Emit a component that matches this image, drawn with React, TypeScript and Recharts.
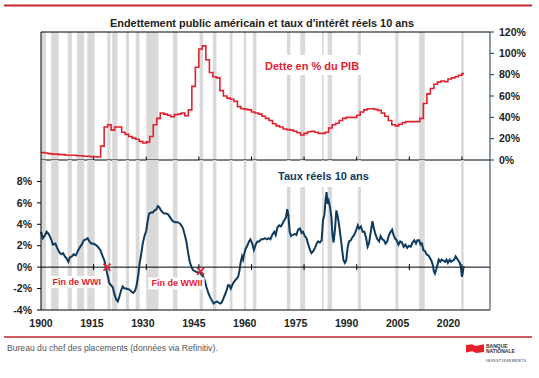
import React from 'react';
import { ComposedChart, Line, XAxis, YAxis, ReferenceArea, ReferenceLine, Scatter } from 'recharts';

// ---------- data ----------
const YEAR_TICKS = [1900, 1915, 1930, 1945, 1960, 1975, 1990, 2005, 2020];
const YEAR_LABELS = ['1900', '1915', '1930', '1945', '1960', '1975', '1990', '2005', '2020'];
const DEBT_TICKS = [0, 20, 40, 60, 80, 100, 120];
const RATE_TICKS = [-4, -2, 0, 2, 4, 6, 8];
const RATE_RIGHT_TICKS = [-4, -2, 0, 2, 4, 6, 8, 10];

const DEBT_YEARS = [
  1900, 1901, 1902, 1903, 1904, 1905, 1906, 1907, 1908, 1909,
  1910, 1911, 1912, 1913, 1914, 1915, 1916, 1917, 1918, 1919,
  1920, 1921, 1922, 1923, 1924, 1925, 1926, 1927, 1928, 1929,
  1930, 1931, 1932, 1933, 1934, 1935, 1936, 1937, 1938, 1939,
  1940, 1941, 1942, 1943, 1944, 1945, 1946, 1947, 1948, 1949,
  1950, 1951, 1952, 1953, 1954, 1955, 1956, 1957, 1958, 1959,
  1960, 1961, 1962, 1963, 1964, 1965, 1966, 1967, 1968, 1969,
  1970, 1971, 1972, 1973, 1974, 1975, 1976, 1977, 1978, 1979,
  1980, 1981, 1982, 1983, 1984, 1985, 1986, 1987, 1988, 1989,
  1990, 1991, 1992, 1993, 1994, 1995, 1996, 1997, 1998, 1999,
  2000, 2001, 2002, 2003, 2004, 2005, 2006, 2007, 2008, 2009,
  2010, 2011, 2012, 2013, 2014, 2015, 2016, 2017, 2018, 2019,
  2020, 2020.6,
];
const DEBT_VALUES = [
  7, 6.5, 6, 5.5, 5.5, 5, 5, 4.5, 4.5, 4.5,
  4, 4, 3.5, 3.5, 3.2, 3, 2.8, 13, 31, 33,
  28, 31, 31, 26, 24, 22, 20.5, 19.5, 17.5, 16,
  17, 22, 33, 39, 44, 43, 42, 40.5, 42.5, 43,
  44, 41.5, 47, 69, 87, 104, 107, 94, 82, 78,
  77, 65, 60, 58, 57, 55, 50, 48, 47.5, 47,
  45, 44, 43, 41, 39, 37, 34, 32, 31, 29,
  28.5, 28, 27, 25.5, 23.5, 25, 26.5, 27, 26, 25,
  25, 26, 30, 33, 34.5, 37, 39, 40, 40, 40,
  42, 45, 47, 48, 48, 47.5, 46.5, 44, 41, 37,
  33, 32, 33.5, 35, 36, 36, 36, 36, 39, 53,
  62, 67, 71, 73, 74, 73.5, 76, 77, 78, 79.5,
  81, 81,
];

const RATE_YEARS = [
  1900.0, 1900.5, 1901.2, 1901.6, 1902.2, 1902.9, 1903.4, 1904.1, 1904.6, 1905.2,
  1905.8, 1906.3, 1906.8, 1907.3, 1907.8, 1908.2, 1908.8, 1909.3, 1909.9, 1910.5,
  1911.0, 1911.6, 1912.2, 1912.8, 1913.3, 1913.8, 1914.3, 1914.8, 1915.5, 1916.2,
  1916.9, 1917.6, 1918.1, 1918.6, 1919.0, 1919.5, 1920.0, 1920.5, 1920.9, 1921.4,
  1921.9, 1922.3, 1922.8, 1923.3, 1923.8, 1924.3, 1925.2, 1925.8, 1926.3, 1926.8,
  1927.2, 1927.7, 1928.1, 1928.6, 1929.0, 1929.5, 1930.0, 1930.4, 1930.8, 1931.4,
  1931.9, 1932.4, 1932.9, 1933.3, 1933.7, 1934.2, 1934.7, 1935.2, 1935.7, 1936.3,
  1936.9, 1937.5, 1938.2, 1938.9, 1939.5, 1940.0, 1940.5, 1941.0, 1941.5, 1941.9,
  1942.4, 1942.9, 1943.4, 1944.0, 1944.7, 1945.3, 1945.8, 1946.3, 1946.8, 1947.2,
  1947.7, 1948.2, 1948.7, 1949.2, 1949.6, 1950.1, 1950.6, 1951.1, 1951.5, 1951.9,
  1952.4, 1952.9, 1953.3, 1953.7, 1954.1, 1954.6, 1955.2, 1955.7, 1956.2, 1956.6,
  1956.9, 1957.3, 1957.6, 1957.9, 1958.3, 1958.8, 1959.3, 1959.7, 1960.2, 1960.7,
  1961.2, 1961.7, 1962.2, 1962.8, 1963.3, 1963.8, 1964.4, 1964.9, 1965.4, 1965.9,
  1966.5, 1966.9, 1967.4, 1967.9, 1968.4, 1968.9, 1969.4, 1969.8, 1970.2, 1970.5,
  1970.9, 1971.3, 1971.8, 1972.3, 1972.8, 1973.3, 1973.8, 1974.3, 1974.7, 1975.2,
  1975.7, 1976.2, 1976.7, 1977.1, 1977.6, 1978.1, 1978.6, 1979.0, 1979.5, 1980.0,
  1980.4, 1980.8, 1981.1, 1981.4, 1981.7, 1982.0, 1982.4, 1982.8, 1983.1, 1983.4,
  1983.8, 1984.2, 1984.6, 1985.0, 1985.5, 1985.9, 1986.2, 1986.6, 1987.0, 1987.4,
  1987.8, 1988.3, 1988.8, 1989.3, 1989.8, 1990.3, 1990.7, 1991.2, 1991.7, 1992.2,
  1992.7, 1993.1, 1993.5, 1994.0, 1994.5, 1994.9, 1995.4, 1995.9, 1996.4, 1996.8,
  1997.3, 1997.8, 1998.2, 1998.7, 1999.2, 1999.7, 2000.1, 2000.5, 2000.9, 2001.4,
  2001.9, 2002.4, 2002.9, 2003.4, 2003.9, 2004.4, 2004.9, 2005.4, 2005.9, 2006.4,
  2006.9, 2007.3, 2007.8, 2008.2, 2008.6, 2009.0, 2009.5, 2009.9, 2010.4, 2010.8,
  2011.3, 2011.7, 2012.0, 2012.3, 2012.7, 2013.0, 2013.4, 2013.8, 2014.2, 2014.7,
  2015.2, 2015.6, 2016.0, 2016.5, 2016.9, 2017.3, 2017.8, 2018.2, 2018.6, 2019.0,
  2019.4, 2019.7, 2020.0, 2020.3, 2020.5,
];
const RATE_VALUES = [
  3.3, 2.7, 3.0, 3.3, 3.1, 2.6, 2.1, 2.2, 1.8, 1.4,
  1.2, 1.3, 1.0, 0.8, 0.5, 0.9, 1.0, 1.2, 1.1, 1.5,
  1.8, 2.1, 2.5, 2.6, 2.7, 2.4, 2.2, 2.2, 2.1, 1.9,
  1.6, 1.0, 0.6, -0.2, -0.8, -1.5, -1.7, -1.9, -2.5, -3.0,
  -3.2, -2.8, -2.2, -1.8, -2.0, -2.0, -2.1, -2.3, -2.4, -2.2,
  -1.8, -0.8, 0.3, 1.3, 2.2, 2.9, 3.4, 4.3, 5.0, 5.1,
  5.1, 5.3, 5.4, 5.7, 5.6, 5.3, 5.1, 5.0, 5.0, 4.9,
  4.6, 4.3, 4.2, 4.2, 4.1, 3.9, 3.6, 3.0, 2.3, 1.4,
  0.5, 0.0, -0.3, -0.4, -0.5, -0.5, -0.7, -0.9, -1.4, -1.9,
  -2.4, -2.8, -3.1, -3.4, -3.3, -3.2, -3.3, -3.4, -3.3, -3.0,
  -2.6, -2.2, -1.7, -1.7, -2.0, -1.6, -1.3, -1.1, -0.9, -0.3,
  0.4, 1.0, 0.7, 1.2, 1.7, 2.0, 2.4, 2.6, 2.2, 1.6,
  2.1, 2.4, 2.4, 2.6, 2.6, 2.7, 2.6, 2.7, 2.6, 3.0,
  3.3, 3.0, 3.7, 3.9, 3.8, 4.1, 4.4, 4.6, 5.4, 4.9,
  3.3, 2.9, 3.0, 3.1, 3.0, 3.5, 3.6, 3.2, 3.3, 2.9,
  2.7, 2.1, 1.6, 1.3, 1.5, 1.8, 2.2, 2.4, 2.3, 2.5,
  4.4, 4.9, 6.2, 7.0, 5.9, 6.2, 5.6, 4.6, 3.0, 2.3,
  3.5, 5.3, 4.7, 3.9, 2.6, 1.5, 0.7, 0.4, 0.6, 1.8,
  2.4, 2.5, 2.8, 3.0, 3.4, 3.9, 3.6, 3.8, 3.3, 3.3,
  2.7, 1.9, 2.2, 3.3, 4.3, 3.6, 3.0, 2.6, 2.4, 2.9,
  2.6, 2.5, 2.2, 2.4, 3.0, 3.3, 3.5, 3.0, 2.7, 2.5,
  2.1, 2.4, 2.3, 1.9, 2.1, 1.8, 2.0, 1.9, 2.3, 2.5,
  2.2, 2.5, 2.5, 2.1, 2.2, 1.6, 1.5, 1.2, 1.1, 0.9,
  0.6, 0.2, -0.4, -0.6, -0.2, 0.2, 0.7, 0.5, 0.7, 0.6,
  0.5, 0.7, 0.4, 0.7, 0.5, 0.6, 0.7, 1.0, 0.8, 0.6,
  0.4, 0.0, -0.9, -0.4, 0.1,
];

const RECESSION_STARTS = [
  1900.0, 1902.9, 1907.6, 1910.3, 1913.2, 1918.9, 1920.3, 1924.2, 1927.0, 1930.0,
  1937.6, 1945.2, 1949.0, 1953.8, 1957.8, 1960.4, 1970.1, 1973.9, 1980.1, 1981.7,
  1990.3, 2001.0, 2007.8, 2019.8,
];
const RECESSION_ENDS = [
  1901.4, 1905.0, 1908.8, 1912.3, 1915.3, 1919.8, 1921.8, 1925.1, 1928.1, 1933.5,
  1938.9, 1946.2, 1950.0, 1954.6, 1958.5, 1961.4, 1971.1, 1975.3, 1980.6, 1983.0,
  1991.2, 2001.9, 2009.4, 2020.5,
];

const WAR_END_YEARS = [1918.8, 1945.5];
const WAR_END_RATES = [0, -0.4];
const WAR_END_LABELS = ['Fin de WWI', 'Fin de WWII'];

// ---------- style ----------
const FONT = '"Liberation Sans", Arial, Helvetica, sans-serif';
const RED = '#E3202E';
const NAVY = '#0E3A5E';
const AXIS_NAVY = '#1D3B58';
const GRAY = '#D9D9D9';
const TEXT = '#222222';
const X_DOMAIN: [number, number] = [1900, 2028];
const LABEL_DRIFT = 1.68; // the original's year labels drift left of their ticks
const WAR_LABEL_OFFSETS = [{ dx: -6, dy: 18 }, { dx: 2, dy: 15 }];

const tickStyle = { fill: TEXT, fontSize: 10.5, fontWeight: 700, fontFamily: FONT };

function WarMark(props: any) {
  const { cx, cy, payload } = props;
  if (cx == null || cy == null) return null;
  const off = WAR_LABEL_OFFSETS[payload.i];
  const tx = cx + off.dx;
  const ty = cy + off.dy;
  const w = payload.label.length * 4.75;
  return (
    <g>
      <rect x={tx - w - 2} y={ty - 9} width={w + 4} height={12} fill="#fff" />
      <text x={tx} y={ty} textAnchor="end" fontSize={9} fontWeight={700} fontFamily={FONT} fill={RED}>
        {payload.label}
      </text>
      <line x1={cx - 3.5} y1={cy - 3.5} x2={cx + 3.5} y2={cy + 3.5} stroke={RED} strokeWidth={1.6} />
      <line x1={cx - 3.5} y1={cy + 3.5} x2={cx + 3.5} y2={cy - 3.5} stroke={RED} strokeWidth={1.6} />
    </g>
  );
}

function YearTick(props: any) {
  const { x, y, payload, index } = props;
  const i = typeof index === 'number' ? index : YEAR_TICKS.indexOf(payload.value);
  const label = YEAR_LABELS[i] ?? String(payload.value);
  return (
    <text x={x - i * LABEL_DRIFT} y={y + 16.5} textAnchor="middle" fontSize={10.5} fontWeight={700} fill={TEXT} fontFamily={FONT}>
      {label}
    </text>
  );
}

export default function App() {
  const debtData = DEBT_YEARS.map((x, i) => ({ x, y: DEBT_VALUES[i] }));
  const n = Math.min(RATE_YEARS.length, RATE_VALUES.length);
  const rateData = RATE_YEARS.slice(0, n).map((x, i) => ({ x, y: RATE_VALUES[i] }));
  const warData = WAR_END_YEARS.map((x, i) => ({ x, y: WAR_END_RATES[i], label: WAR_END_LABELS[i], i }));

  const bars = (yId: string) => RECESSION_STARTS.map((s, i) => (
    <ReferenceArea key={'r' + i} xAxisId="year" yAxisId={yId} x1={s} x2={RECESSION_ENDS[i]} fill={GRAY} fillOpacity={1} stroke="none" />
  ));

  return (
    <div style={{ position: 'relative', width: 539, height: 378, background: '#fff', overflow: 'hidden', fontFamily: FONT }}>
      <style>{'body{margin:0}'}</style>
      <svg width={539} height={378} style={{ position: 'absolute', left: 0, top: 0 }}>
        <line x1={4} x2={532} y1={5.5} y2={5.5} stroke="#C1272F" strokeWidth={2} />
        <text x={262} y={27} textAnchor="middle" fontSize={10.9} fontWeight={700} fill={TEXT} fontFamily={FONT}>
          Endettement public américain et taux d'intérêt réels 10 ans
        </text>
        <line x1={4} x2={532} y1={337} y2={337} stroke="#C1272F" strokeWidth={1.5} />
        <text x={7} y={351} fontSize={8.6} fill="#555" fontFamily={FONT}>
          Bureau du chef des placements (données via Refinitiv).
        </text>
        <path d="M466 345 L472 344.2 L475.5 346 L484 344.3 L484 352 L476 353 L472.5 351.2 L466 352.6 Z" fill="#E4202A" />
        <text x={486} y={348} fontSize={5} fontWeight={700} fill="#333" fontFamily={FONT}>BANQUE</text>
        <text x={486} y={353} fontSize={5} fontWeight={700} fill="#333" fontFamily={FONT}>NATIONALE</text>
        <text x={486} y={362} fontSize={3.6} fontWeight={700} fill="#777" fontFamily={FONT} letterSpacing={0.45}>INVESTISSEMENTS</text>
      </svg>

      <div style={{ position: 'absolute', left: 0, top: 0 }}>
        <ComposedChart width={539} height={170} margin={{ top: 32, right: 9, bottom: 10, left: 11 }}>
          <XAxis xAxisId="year" dataKey="x" type="number" domain={X_DOMAIN} hide height={0} />
          <YAxis yAxisId="l" orientation="left" type="number" domain={[0, 120]} ticks={DEBT_TICKS} width={30}
            allowDataOverflow interval={0}
            tick={false} tickSize={4} axisLine={{ stroke: '#000' }} tickLine={{ stroke: '#000' }} />
          <YAxis yAxisId="r" orientation="right" type="number" dataKey="y" domain={[0, 120]} ticks={DEBT_TICKS} width={40}
            interval={0}
            tickFormatter={(v: number) => `${v}%`} tick={tickStyle} tickSize={4} tickMargin={5}
            axisLine={{ stroke: AXIS_NAVY }} tickLine={{ stroke: AXIS_NAVY }} />
          {bars('r')}
          <ReferenceLine xAxisId="year" yAxisId="r" y={120} stroke="#000" strokeWidth={1} />
          <ReferenceLine xAxisId="year" yAxisId="r" y={0} stroke="#000" strokeWidth={1} />
          {YEAR_TICKS.slice(1).map((t) => (
            <ReferenceLine key={'tt' + t} xAxisId="year" yAxisId="r" segment={[{ x: t, y: 0 }, { x: t, y: 3.3 }]} stroke="#000" strokeWidth={1} />
          ))}
          <Line xAxisId="year" yAxisId="r" data={debtData} dataKey="y" type="stepAfter" stroke={RED} strokeWidth={1.6}
            dot={false} isAnimationActive={false} />
          <Line xAxisId="year" yAxisId="l" data={debtData} dataKey="y" type="stepAfter" stroke="none" strokeWidth={0}
            dot={false} isAnimationActive={false} legendType="none" />
        </ComposedChart>
      </div>

      <div style={{ position: 'absolute', left: 0, top: 150 }}>
        <ComposedChart width={539} height={190} margin={{ top: 10, right: 9, bottom: 0, left: 11 }}>
          <XAxis xAxisId="year" dataKey="x" type="number" domain={X_DOMAIN} ticks={YEAR_TICKS} interval={0}
            tick={(p: any) => <YearTick {...p} />} tickLine={false} tickSize={0} tickMargin={0}
            axisLine={{ stroke: '#000' }} height={30} />
          <YAxis yAxisId="l" orientation="left" type="number" dataKey="y" domain={[-4, 10]} ticks={RATE_TICKS} width={30}
            interval={0}
            tickFormatter={(v: number) => `${v}%`} tick={tickStyle} tickSize={4} tickMargin={5}
            axisLine={{ stroke: '#000' }} tickLine={{ stroke: '#000' }} />
          <YAxis yAxisId="r" orientation="right" type="number" dataKey="y" domain={[-4, 10]} ticks={RATE_RIGHT_TICKS} width={40}
            allowDataOverflow interval={0}
            tick={false} tickSize={4} axisLine={{ stroke: AXIS_NAVY }} tickLine={{ stroke: AXIS_NAVY }} />
          {bars('l')}
          <ReferenceLine xAxisId="year" yAxisId="l" y={0} stroke="#000" strokeWidth={1} />
          {YEAR_TICKS.slice(1).map((t) => (
            <ReferenceLine key={'bt' + t} xAxisId="year" yAxisId="l" segment={[{ x: t, y: -0.28 }, { x: t, y: 0.28 }]} stroke="#000" strokeWidth={1} />
          ))}
          <Line xAxisId="year" yAxisId="r" data={rateData} dataKey="y" type="linear" stroke="none" strokeWidth={0}
            dot={false} isAnimationActive={false} legendType="none" />
          <Line xAxisId="year" yAxisId="l" data={rateData} dataKey="y" type="linear" stroke={NAVY} strokeWidth={2}
            dot={false} isAnimationActive={false} />
          <Scatter xAxisId="year" yAxisId="l" data={warData} dataKey="y" isAnimationActive={false}
            shape={(p: any) => <WarMark {...p} />} />
        </ComposedChart>
      </div>

      <svg width={539} height={378} style={{ position: 'absolute', left: 0, top: 0, pointerEvents: 'none' }}>
        <rect x={261} y={55} width={102} height={20} fill="#fff" />
        <text x={265} y={69.5} fontSize={11} fontWeight={700} fill={RED} fontFamily={FONT}>Dette en % du PIB</text>
        <rect x={274} y={161} width={100} height={26} fill="#fff" />
        <text x={278} y={179.5} fontSize={11} fontWeight={700} fill={NAVY} fontFamily={FONT}>Taux réels 10 ans</text>
      </svg>
    </div>
  );
}
